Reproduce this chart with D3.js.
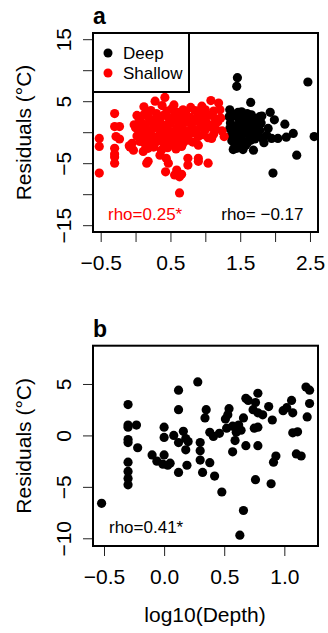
<!DOCTYPE html>
<html>
<head>
<meta charset="utf-8">
<script src="https://cdn.jsdelivr.net/npm/d3@7"></script>
<style>
  body { margin: 0; background: #fff; }
  svg { display: block; font-family: "Liberation Sans", Arial, sans-serif; }
</style>
</head>
<body>
<svg id="chart" width="328" height="633"></svg>
<script>
// panel a: residuals vs log10(depth), split into deep / shallow sites
const deepPts = [
  [1.46,8.8],[1.45,7.4],[2.47,8.1],[1.65,4.8],[2.56,-0.7],[2.31,-3.7],[1.97,-6.6],[2.26,-0.2],
  [2.16,-0.8],[2.04,-1.0],[1.95,-1.0],[1.84,-1.7],[2.14,1.3],[1.99,2.0],[1.93,3.2],[1.78,2.5],
  [1.69,-2.9],[1.54,-2.8],[1.45,-2.6],[1.40,-2.8],[1.35,3.6],[1.38,2.5],[1.35,0.6],[1.36,1.5],
  [1.37,-0.5],[1.38,-1.4],[1.40,2.9],[1.42,1.0],[1.43,0.2],[1.44,-0.9],[1.45,-1.9],[1.47,3.2],
  [1.48,2.1],[1.50,1.4],[1.50,0.5],[1.51,-0.3],[1.52,-1.2],[1.52,3.3],[1.54,2.6],[1.55,1.8],
  [1.56,0.8],[1.57,-0.1],[1.58,-1.5],[1.58,-2.1],[1.60,3.0],[1.61,2.2],[1.62,1.2],[1.63,0.3],
  [1.64,-0.6],[1.65,-1.3],[1.66,2.8],[1.67,1.6],[1.68,0.6],[1.70,-0.2],[1.71,-1.1],[1.72,2.2],
  [1.74,1.0],[1.76,-0.6],[1.78,0.3],[1.80,1.5],[1.82,-1.0],[1.81,2.6],[1.88,-0.5],[1.90,0.6],
  [1.34,2.5],[1.41,-1.7],[1.55,-2.3],[1.48,-0.6],[1.60,-1.8]
];

const shallowPts = [
  [-0.52,-1.0],[-0.52,-2.3],[-0.52,-6.6],
  [-0.30,3.0],[-0.30,0.9],[-0.23,0.9],[-0.28,-0.7],[-0.23,-1.1],[-0.30,-2.6],[-0.30,-3.5],[-0.30,-4.0],[-0.30,-5.0],
  [-0.09,-2.2],[-0.03,-2.9],[-0.05,-1.8],[-0.08,-2.4],
  [0.28,5.0],[0.42,5.6],[0.12,4.1],[0.55,4.4],[0.68,3.6],[0.79,4.0],[1.08,5.1],[1.19,4.7],[0.95,4.2],[0.38,4.3],
  [0.02,2.7],[0.15,3.2],[0.22,3.5],[0.30,3.0],[0.45,3.4],[0.52,3.8],[0.60,3.2],[0.72,3.3],[0.85,3.5],[0.92,3.0],
  [1.00,3.6],[1.12,3.4],[1.21,3.6],[0.12,2.8],
  [0.05,2.2],[0.18,2.5],[0.25,2.0],[0.33,2.4],[0.40,2.7],[0.48,2.2],[0.55,2.6],[0.62,2.3],[0.70,2.8],[0.78,2.4],
  [0.84,2.1],[0.90,2.6],[0.98,2.3],[1.05,2.7],[1.14,2.2],[1.22,2.3],
  [-0.02,1.2],[0.08,1.6],[0.14,1.1],[0.20,1.8],[0.27,1.3],[0.35,1.7],[0.42,1.1],[0.50,1.5],[0.57,1.9],[0.64,1.2],
  [0.72,1.6],[0.80,1.3],[0.88,1.8],[0.95,1.1],[1.02,1.5],[1.10,1.2],[1.18,1.7],
  [0.00,0.7],[0.06,0.3],[0.12,0.8],[0.19,0.2],[0.25,0.6],[0.31,0.9],[0.38,0.3],[0.45,0.7],[0.52,0.1],[0.59,0.6],
  [0.66,0.9],[0.73,0.2],[0.81,0.7],[0.87,0.3],[0.93,0.8],[1.00,0.4],[1.07,0.9],[1.15,0.5],[1.24,0.2],
  [0.02,-0.6],[0.09,-0.3],[0.15,-0.9],[0.22,-0.4],[0.28,-0.8],[0.35,-0.2],[0.41,-0.7],[0.48,-0.4],[0.55,-0.9],
  [0.62,-0.3],[0.69,-0.8],[0.76,-0.5],[0.83,-0.1],[0.90,-0.7],[0.97,-0.4],[1.04,-0.9],[1.12,-0.3],[1.27,-0.7],[1.09,-1.0],
  [0.06,-1.5],[0.13,-1.8],[0.20,-1.3],[0.27,-1.9],[0.33,-1.4],[0.40,-1.7],[0.47,-1.2],[0.54,-2.0],[0.61,-1.5],
  [0.68,-1.8],[0.75,-1.3],[0.82,-1.6],[0.90,-2.1],
  [0.11,-3.1],[0.18,-2.6],[0.26,-2.4],[0.37,-2.9],[0.46,-2.5],[0.58,-2.7],[0.66,-2.3],[0.35,-3.7],
  [0.18,-4.7],[0.16,-5.0],[0.44,-4.2],[0.47,-5.0],[0.43,-6.4],[0.59,-6.1],[0.56,-6.9],[0.63,-7.2],[0.66,-6.8],
  [0.63,-9.8],[0.75,-4.2],[0.75,-5.3],[0.90,-4.7],[0.90,-4.2],[1.04,-5.0]
];

// panel b: all sites
const allPts = [
  [-0.52,-6.6],[-0.30,3.0],[-0.30,1.0],[-0.30,0.8],[-0.23,1.0],[-0.30,-0.4],[-0.30,-0.7],[-0.22,-1.2],
  [-0.30,-2.6],[-0.30,-3.5],[-0.30,-4.2],[-0.30,-4.8],[-0.10,-1.9],[-0.06,-2.5],[0.00,-1.9],[0.00,0.8],
  [0.00,-0.2],[-0.01,-2.8],[0.03,-2.9],[0.05,-2.7],[0.08,0.0],[0.12,-0.7],[0.12,4.4],[0.12,2.5],
  [0.12,-3.6],[0.16,0.4],[0.18,-0.3],[0.20,-0.6],[0.18,-1.4],[0.19,-2.9],[0.28,5.2],[0.30,-0.7],
  [0.30,-1.5],[0.30,-2.4],[0.32,-3.6],[0.35,2.5],[0.34,1.7],[0.38,0.3],[0.46,0.2],[0.38,-2.65],
  [0.42,-3.95],[0.48,-5.5],[0.51,1.6],[0.54,2.6],[0.53,2.0],[0.57,0.9],[0.62,1.0],[0.66,1.7],
  [0.60,0.3],[0.59,-0.5],[0.57,-1.6],[0.68,-1.0],[0.68,3.6],[0.70,3.4],[0.78,4.1],[0.76,3.2],
  [0.74,2.5],[0.78,2.2],[0.82,2.0],[0.87,2.8],[0.75,0.7],[0.78,0.8],[0.78,-1.0],[0.90,1.5],
  [0.93,-2.0],[0.91,-2.6],[0.76,-4.3],[0.89,-4.7],[0.66,-7.3],[0.63,-9.7],[0.99,2.4],[1.02,2.7],
  [1.06,3.4],[1.07,2.2],[1.07,0.25],[1.11,0.35],[1.10,-1.8],[1.14,-2.0],[1.18,4.7],[1.21,4.4],
  [1.21,3.1],[1.19,1.8],[0.64,0.5],[0.52,0.7],[0.41,-0.1]
];

const xTicksA = [-0.5, 0, 0.5, 1, 1.5, 2, 2.5];
const xLabelsA = ["\u22120.5", "", "0.5", "", "1.5", "", "2.5"];
const yTicksA = [-15, -10, -5, 0, 5, 10, 15];
const yLabelsA = ["\u221215", "", "\u22125", "", "5", "", "15"];
const xTicksB = [-0.5, 0, 0.5, 1];
const xLabelsB = ["\u22120.5", "0.0", "0.5", "1.0"];
const yTicksB = [-10, -5, 0, 5];
const yLabelsB = ["\u221210", "\u22125", "0", "5"];

const svg = d3.select("#chart");
const left = 93, right = 318;

function panel(opt) {
  const x = d3.scaleLinear().domain(opt.xDomain).range([left, right]);
  const y = d3.scaleLinear().domain(opt.yDomain).range([opt.bottom, opt.top]);

  const g = svg.append("g");

  // x axis
  const xa = g.append("g")
    .attr("transform", `translate(0,${opt.bottom})`)
    .call(d3.axisBottom(x).tickValues(opt.xTicks).tickSize(10).tickSizeOuter(0)
      .tickFormat((d, i) => opt.xLabels[i]));
  xa.select(".domain").remove();
  xa.selectAll(".tick line").attr("stroke", "#222");
  xa.selectAll(".tick text")
    .attr("y", 37.5).attr("dy", 0)
    .attr("fill", "#000")
    .style("font-size", "21px");

  // y axis, labels rotated like R's default
  const ya = g.append("g")
    .attr("transform", `translate(${left},0)`)
    .call(d3.axisLeft(y).tickValues(opt.yTicks).tickSize(10).tickSizeOuter(0)
      .tickFormat((d, i) => opt.yLabels[i]));
  ya.select(".domain").remove();
  ya.selectAll(".tick line").attr("stroke", "#222");
  ya.selectAll(".tick text")
    .attr("x", 0).attr("dy", 0)
    .attr("text-anchor", "middle")
    .attr("transform", "translate(-22.5,0) rotate(-90)")
    .attr("fill", "#000")
    .style("font-size", "21px");

  // points
  opt.series.forEach(s => {
    g.append("g").selectAll("circle")
      .data(s.data)
      .join("circle")
      .attr("cx", d => x(d[0]))
      .attr("cy", d => y(d[1]))
      .attr("r", 4.6)
      .attr("fill", s.color);
  });

  // frame
  g.append("rect")
    .attr("x", left).attr("y", opt.top)
    .attr("width", right - left).attr("height", opt.bottom - opt.top)
    .attr("fill", "none").attr("stroke", "#000").attr("stroke-width", 2);

  // panel letter
  g.append("text")
    .attr("x", left).attr("y", opt.top - 9)
    .style("font-size", "23px").style("font-weight", "bold")
    .text(opt.letter);

  // y title
  g.append("text")
    .attr("transform", `translate(30.5,${(opt.top + opt.bottom) / 2}) rotate(-90)`)
    .attr("text-anchor", "middle")
    .style("font-size", "21px")
    .text("Residuals (\u00B0C)");

  return { g, x, y };
}

// ---- panel a ----
const pa = panel({
  xDomain: [-0.61, 2.615], yDomain: [-16.1, 16.0],
  top: 33, bottom: 232,
  xTicks: xTicksA, xLabels: xLabelsA, yTicks: yTicksA, yLabels: yLabelsA,
  series: [{ data: deepPts, color: "#000" }, { data: shallowPts, color: "#ff0000" }],
  letter: "a"
});

// legend
const lg = pa.g.append("g");
lg.append("rect")
  .attr("x", left).attr("y", 33).attr("width", 96).attr("height", 59)
  .attr("fill", "#fff").attr("stroke", "#000").attr("stroke-width", 2);
[["Deep", "#000", 53], ["Shallow", "#ff0000", 73]].forEach(([lab, col, cy]) => {
  lg.append("circle").attr("cx", 108).attr("cy", cy).attr("r", 4.5).attr("fill", col);
  lg.append("text").attr("x", 123).attr("y", cy + 6)
    .style("font-size", "17px").text(lab);
});

pa.g.append("text").attr("x", 108).attr("y", 219.5)
  .attr("fill", "#ff0000").style("font-size", "17px").text("rho=0.25*");
pa.g.append("text").attr("x", 303.5).attr("y", 219.5)
  .attr("text-anchor", "end").style("font-size", "17px").text("rho= \u22120.17");

// ---- panel b ----
const pb = panel({
  xDomain: [-0.5915, 1.28], yDomain: [-10.75, 8.72],
  top: 345.7, bottom: 546,
  xTicks: xTicksB, xLabels: xLabelsB, yTicks: yTicksB, yLabels: yLabelsB,
  series: [{ data: allPts, color: "#000" }],
  letter: "b"
});

pb.g.append("text").attr("x", 109).attr("y", 533)
  .style("font-size", "17px").text("rho=0.41*");

pb.g.append("text")
  .attr("x", 205).attr("y", 621.5)
  .attr("text-anchor", "middle")
  .style("font-size", "21px")
  .text("log10(Depth)");
</script>
</body>
</html>
